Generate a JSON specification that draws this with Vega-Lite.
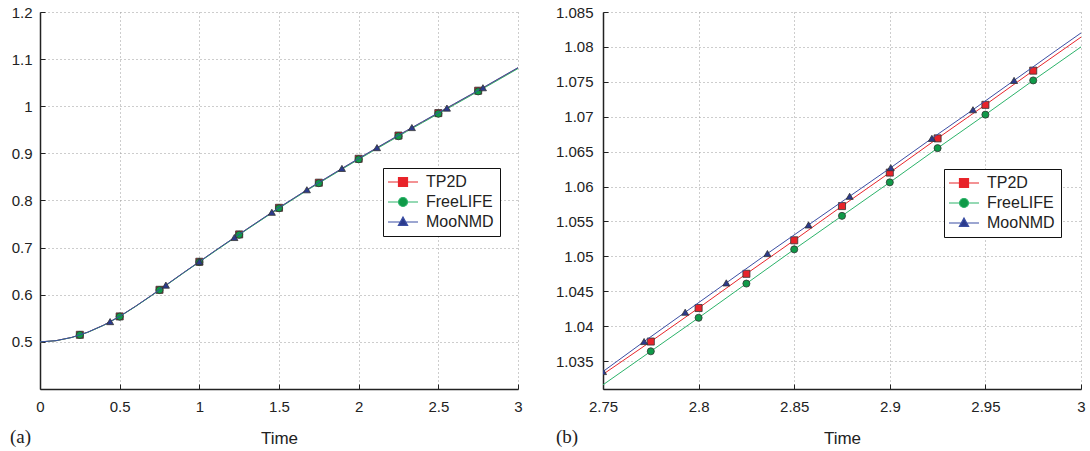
{
  "$schema": "https://vega.github.io/schema/vega-lite/v6.json",
  "background": "white",
  "padding": {"left": 10, "top": 5, "right": 5, "bottom": 0},
  "bounds": "flush",
  "spacing": 85,
  "datasets": {
    "leftLines": [
      {"series": "TP2D", "t": 0.0, "y": 0.5000}, {"series": "TP2D", "t": 0.1, "y": 0.5025}, {"series": "TP2D", "t": 0.2, "y": 0.5095}, {"series": "TP2D", "t": 0.3, "y": 0.5205}, {"series": "TP2D", "t": 0.4, "y": 0.5355}, {"series": "TP2D", "t": 0.5, "y": 0.5540}, {"series": "TP2D", "t": 0.6, "y": 0.5755}, {"series": "TP2D", "t": 0.7, "y": 0.5985}, {"series": "TP2D", "t": 0.8, "y": 0.6225}, {"series": "TP2D", "t": 0.9, "y": 0.6465}, {"series": "TP2D", "t": 1.0, "y": 0.6700}, {"series": "TP2D", "t": 1.1, "y": 0.6935}, {"series": "TP2D", "t": 1.2, "y": 0.7165}, {"series": "TP2D", "t": 1.3, "y": 0.7395}, {"series": "TP2D", "t": 1.4, "y": 0.7620}, {"series": "TP2D", "t": 1.5, "y": 0.7845}, {"series": "TP2D", "t": 1.6, "y": 0.8060}, {"series": "TP2D", "t": 1.7, "y": 0.8275}, {"series": "TP2D", "t": 1.8, "y": 0.8480}, {"series": "TP2D", "t": 1.9, "y": 0.8685}, {"series": "TP2D", "t": 2.0, "y": 0.8885}, {"series": "TP2D", "t": 2.1, "y": 0.9085}, {"series": "TP2D", "t": 2.2, "y": 0.9280}, {"series": "TP2D", "t": 2.3, "y": 0.9475}, {"series": "TP2D", "t": 2.4, "y": 0.9665}, {"series": "TP2D", "t": 2.5, "y": 0.9855}, {"series": "TP2D", "t": 2.6, "y": 1.0045}, {"series": "TP2D", "t": 2.7, "y": 1.0235}, {"series": "TP2D", "t": 2.8, "y": 1.0426}, {"series": "TP2D", "t": 2.9, "y": 1.0620}, {"series": "TP2D", "t": 3.0, "y": 1.0814},
      {"series": "FreeLIFE", "t": 0.0, "y": 0.5000}, {"series": "FreeLIFE", "t": 0.1, "y": 0.5024}, {"series": "FreeLIFE", "t": 0.2, "y": 0.5093}, {"series": "FreeLIFE", "t": 0.3, "y": 0.5202}, {"series": "FreeLIFE", "t": 0.4, "y": 0.5351}, {"series": "FreeLIFE", "t": 0.5, "y": 0.5536}, {"series": "FreeLIFE", "t": 0.6, "y": 0.5750}, {"series": "FreeLIFE", "t": 0.7, "y": 0.5980}, {"series": "FreeLIFE", "t": 0.8, "y": 0.6219}, {"series": "FreeLIFE", "t": 0.9, "y": 0.6459}, {"series": "FreeLIFE", "t": 1.0, "y": 0.6693}, {"series": "FreeLIFE", "t": 1.1, "y": 0.6927}, {"series": "FreeLIFE", "t": 1.2, "y": 0.7157}, {"series": "FreeLIFE", "t": 1.3, "y": 0.7386}, {"series": "FreeLIFE", "t": 1.4, "y": 0.7611}, {"series": "FreeLIFE", "t": 1.5, "y": 0.7835}, {"series": "FreeLIFE", "t": 1.6, "y": 0.8050}, {"series": "FreeLIFE", "t": 1.7, "y": 0.8264}, {"series": "FreeLIFE", "t": 1.8, "y": 0.8469}, {"series": "FreeLIFE", "t": 1.9, "y": 0.8673}, {"series": "FreeLIFE", "t": 2.0, "y": 0.8873}, {"series": "FreeLIFE", "t": 2.1, "y": 0.9072}, {"series": "FreeLIFE", "t": 2.2, "y": 0.9267}, {"series": "FreeLIFE", "t": 2.3, "y": 0.9461}, {"series": "FreeLIFE", "t": 2.4, "y": 0.9651}, {"series": "FreeLIFE", "t": 2.5, "y": 0.9841}, {"series": "FreeLIFE", "t": 2.6, "y": 1.0030}, {"series": "FreeLIFE", "t": 2.7, "y": 1.0220}, {"series": "FreeLIFE", "t": 2.8, "y": 1.0412}, {"series": "FreeLIFE", "t": 2.9, "y": 1.0605}, {"series": "FreeLIFE", "t": 3.0, "y": 1.0800},
      {"series": "MooNMD", "t": 0.0, "y": 0.5000}, {"series": "MooNMD", "t": 0.1, "y": 0.5026}, {"series": "MooNMD", "t": 0.2, "y": 0.5096}, {"series": "MooNMD", "t": 0.3, "y": 0.5207}, {"series": "MooNMD", "t": 0.4, "y": 0.5357}, {"series": "MooNMD", "t": 0.5, "y": 0.5542}, {"series": "MooNMD", "t": 0.6, "y": 0.5757}, {"series": "MooNMD", "t": 0.7, "y": 0.5988}, {"series": "MooNMD", "t": 0.8, "y": 0.6228}, {"series": "MooNMD", "t": 0.9, "y": 0.6468}, {"series": "MooNMD", "t": 1.0, "y": 0.6703}, {"series": "MooNMD", "t": 1.1, "y": 0.6939}, {"series": "MooNMD", "t": 1.2, "y": 0.7169}, {"series": "MooNMD", "t": 1.3, "y": 0.7399}, {"series": "MooNMD", "t": 1.4, "y": 0.7625}, {"series": "MooNMD", "t": 1.5, "y": 0.7850}, {"series": "MooNMD", "t": 1.6, "y": 0.8065}, {"series": "MooNMD", "t": 1.7, "y": 0.8281}, {"series": "MooNMD", "t": 1.8, "y": 0.8486}, {"series": "MooNMD", "t": 1.9, "y": 0.8691}, {"series": "MooNMD", "t": 2.0, "y": 0.8892}, {"series": "MooNMD", "t": 2.1, "y": 0.9092}, {"series": "MooNMD", "t": 2.2, "y": 0.9288}, {"series": "MooNMD", "t": 2.3, "y": 0.9483}, {"series": "MooNMD", "t": 2.4, "y": 0.9673}, {"series": "MooNMD", "t": 2.5, "y": 0.9863}, {"series": "MooNMD", "t": 2.6, "y": 1.0053}, {"series": "MooNMD", "t": 2.7, "y": 1.0242}, {"series": "MooNMD", "t": 2.8, "y": 1.0433}, {"series": "MooNMD", "t": 2.9, "y": 1.0627}, {"series": "MooNMD", "t": 3.0, "y": 1.0820}
    ],
    "leftMarkers": [
      {"series": "TP2D", "t": 0.25, "y": 0.5150}, {"series": "TP2D", "t": 0.5, "y": 0.5540}, {"series": "TP2D", "t": 0.75, "y": 0.6105}, {"series": "TP2D", "t": 1.0, "y": 0.6700}, {"series": "TP2D", "t": 1.25, "y": 0.7280}, {"series": "TP2D", "t": 1.5, "y": 0.7845}, {"series": "TP2D", "t": 1.75, "y": 0.8378}, {"series": "TP2D", "t": 2.0, "y": 0.8885}, {"series": "TP2D", "t": 2.25, "y": 0.9378}, {"series": "TP2D", "t": 2.5, "y": 0.9855}, {"series": "TP2D", "t": 2.75, "y": 1.0330},
      {"series": "FreeLIFE", "t": 0.25, "y": 0.5148}, {"series": "FreeLIFE", "t": 0.5, "y": 0.5536}, {"series": "FreeLIFE", "t": 0.75, "y": 0.6100}, {"series": "FreeLIFE", "t": 1.0, "y": 0.6693}, {"series": "FreeLIFE", "t": 1.25, "y": 0.7272}, {"series": "FreeLIFE", "t": 1.5, "y": 0.7835}, {"series": "FreeLIFE", "t": 1.75, "y": 0.8367}, {"series": "FreeLIFE", "t": 2.0, "y": 0.8873}, {"series": "FreeLIFE", "t": 2.25, "y": 0.9364}, {"series": "FreeLIFE", "t": 2.5, "y": 0.9841}, {"series": "FreeLIFE", "t": 2.75, "y": 1.0315},
      {"series": "MooNMD", "t": 0.44, "y": 0.5430}, {"series": "MooNMD", "t": 0.79, "y": 0.6204}, {"series": "MooNMD", "t": 1.0, "y": 0.6703}, {"series": "MooNMD", "t": 1.22, "y": 0.7215}, {"series": "MooNMD", "t": 1.455, "y": 0.7750}, {"series": "MooNMD", "t": 1.675, "y": 0.8228}, {"series": "MooNMD", "t": 1.895, "y": 0.8681}, {"series": "MooNMD", "t": 2.115, "y": 0.9122}, {"series": "MooNMD", "t": 2.334, "y": 0.9548}, {"series": "MooNMD", "t": 2.554, "y": 0.9961}, {"series": "MooNMD", "t": 2.78, "y": 1.0393}
    ],
    "rightLines": [
      {"series": "TP2D", "t": 2.75, "y": 1.0331}, {"series": "TP2D", "t": 2.775, "y": 1.0378}, {"series": "TP2D", "t": 2.8, "y": 1.0426}, {"series": "TP2D", "t": 2.825, "y": 1.0475}, {"series": "TP2D", "t": 2.85, "y": 1.0523}, {"series": "TP2D", "t": 2.875, "y": 1.0572}, {"series": "TP2D", "t": 2.9, "y": 1.0620}, {"series": "TP2D", "t": 2.925, "y": 1.0669}, {"series": "TP2D", "t": 2.95, "y": 1.0717}, {"series": "TP2D", "t": 2.975, "y": 1.0766}, {"series": "TP2D", "t": 3.0, "y": 1.0814},
      {"series": "FreeLIFE", "t": 2.75, "y": 1.0316}, {"series": "FreeLIFE", "t": 2.775, "y": 1.0364}, {"series": "FreeLIFE", "t": 2.8, "y": 1.0412}, {"series": "FreeLIFE", "t": 2.825, "y": 1.0461}, {"series": "FreeLIFE", "t": 2.85, "y": 1.0510}, {"series": "FreeLIFE", "t": 2.875, "y": 1.0558}, {"series": "FreeLIFE", "t": 2.9, "y": 1.0606}, {"series": "FreeLIFE", "t": 2.925, "y": 1.0655}, {"series": "FreeLIFE", "t": 2.95, "y": 1.0703}, {"series": "FreeLIFE", "t": 2.975, "y": 1.0752}, {"series": "FreeLIFE", "t": 3.0, "y": 1.0800},
      {"series": "MooNMD", "t": 2.75, "y": 1.0335}, {"series": "MooNMD", "t": 2.7715, "y": 1.0378}, {"series": "MooNMD", "t": 2.793, "y": 1.0420}, {"series": "MooNMD", "t": 2.8145, "y": 1.0462}, {"series": "MooNMD", "t": 2.836, "y": 1.0504}, {"series": "MooNMD", "t": 2.8575, "y": 1.0545}, {"series": "MooNMD", "t": 2.879, "y": 1.0586}, {"series": "MooNMD", "t": 2.9005, "y": 1.0627}, {"series": "MooNMD", "t": 2.922, "y": 1.0669}, {"series": "MooNMD", "t": 2.9435, "y": 1.0710}, {"series": "MooNMD", "t": 2.965, "y": 1.0752}, {"series": "MooNMD", "t": 2.9865, "y": 1.0794}, {"series": "MooNMD", "t": 3.0, "y": 1.0820}
    ],
    "rightMarkers": [
      {"series": "TP2D", "t": 2.775, "y": 1.0378}, {"series": "TP2D", "t": 2.8, "y": 1.0426}, {"series": "TP2D", "t": 2.825, "y": 1.0475}, {"series": "TP2D", "t": 2.85, "y": 1.0523}, {"series": "TP2D", "t": 2.875, "y": 1.0572}, {"series": "TP2D", "t": 2.9, "y": 1.0620}, {"series": "TP2D", "t": 2.925, "y": 1.0669}, {"series": "TP2D", "t": 2.95, "y": 1.0717}, {"series": "TP2D", "t": 2.975, "y": 1.0766},
      {"series": "FreeLIFE", "t": 2.775, "y": 1.0364}, {"series": "FreeLIFE", "t": 2.8, "y": 1.0412}, {"series": "FreeLIFE", "t": 2.825, "y": 1.0461}, {"series": "FreeLIFE", "t": 2.85, "y": 1.0510}, {"series": "FreeLIFE", "t": 2.875, "y": 1.0558}, {"series": "FreeLIFE", "t": 2.9, "y": 1.0606}, {"series": "FreeLIFE", "t": 2.925, "y": 1.0655}, {"series": "FreeLIFE", "t": 2.95, "y": 1.0703}, {"series": "FreeLIFE", "t": 2.975, "y": 1.0752},
      {"series": "MooNMD", "t": 2.75, "y": 1.0335}, {"series": "MooNMD", "t": 2.7715, "y": 1.0378}, {"series": "MooNMD", "t": 2.793, "y": 1.0420}, {"series": "MooNMD", "t": 2.8145, "y": 1.0462}, {"series": "MooNMD", "t": 2.836, "y": 1.0504}, {"series": "MooNMD", "t": 2.8575, "y": 1.0545}, {"series": "MooNMD", "t": 2.879, "y": 1.0586}, {"series": "MooNMD", "t": 2.9005, "y": 1.0627}, {"series": "MooNMD", "t": 2.922, "y": 1.0669}, {"series": "MooNMD", "t": 2.9435, "y": 1.0710}, {"series": "MooNMD", "t": 2.965, "y": 1.0752}
    ]
  },
  "hconcat": [
    {
      "width": 478,
      "height": 377,
      "title": {"text": "(a)", "orient": "bottom", "anchor": "start", "frame": "group", "dx": -30, "dy": -22, "font": "Liberation Serif", "fontSize": 19, "fontWeight": "normal", "color": "#222"},
      "encoding": {
        "x": {"field": "t", "type": "quantitative", "scale": {"domain": [0, 3], "nice": false, "zero": false}, "axis": {"values": [0, 0.5, 1, 1.5, 2, 2.5, 3], "format": "~g", "title": "Time"}},
        "y": {"field": "y", "type": "quantitative", "scale": {"domain": [0.4, 1.2], "nice": false, "zero": false}, "axis": {"values": [0.5, 0.6, 0.7, 0.8, 0.9, 1, 1.1, 1.2], "format": "~g", "title": null, "labelPadding": 13}}
      },
      "layer": [
        {"data": {"name": "leftLines"}, "transform": [{"filter": "datum.series === 'TP2D'"}], "mark": {"type": "line", "color": "#e8262b", "strokeWidth": 1, "clip": true}, "encoding": {"order": {"field": "t", "type": "quantitative"}}},
        {"data": {"name": "leftMarkers"}, "transform": [{"filter": "datum.series === 'TP2D'"}], "mark": {"type": "point", "shape": "square", "filled": true, "fill": "#e8232a", "stroke": "#333", "strokeWidth": 0.8, "size": 50, "opacity": 1}, "encoding": {}},
        {"data": {"name": "leftLines"}, "transform": [{"filter": "datum.series === 'FreeLIFE'"}], "mark": {"type": "line", "color": "#2cb36a", "strokeWidth": 1, "clip": true}, "encoding": {"order": {"field": "t", "type": "quantitative"}}},
        {"data": {"name": "leftMarkers"}, "transform": [{"filter": "datum.series === 'FreeLIFE'"}], "mark": {"type": "point", "shape": "circle", "filled": true, "fill": "#0f9a48", "stroke": "#333", "strokeWidth": 0.8, "size": 50, "opacity": 1}, "encoding": {}},
        {"data": {"name": "leftLines"}, "transform": [{"filter": "datum.series === 'MooNMD'"}], "mark": {"type": "line", "color": "#3b4ea3", "strokeWidth": 1, "clip": true}, "encoding": {"order": {"field": "t", "type": "quantitative"}}},
        {"data": {"name": "leftMarkers"}, "transform": [{"filter": "datum.series === 'MooNMD'"}], "mark": {"type": "point", "shape": "triangle-up", "filled": true, "fill": "#2b3a8c", "stroke": "#333", "strokeWidth": 0.8, "size": 50, "opacity": 1}, "encoding": {}},
        {
          "data": {"name": "leftMarkers"},
          "mark": {"type": "point", "filled": true, "opacity": 0, "size": 64},
          "encoding": {
            "shape": {"field": "series", "type": "nominal", "scale": {"domain": ["TP2D", "FreeLIFE", "MooNMD"], "range": ["M-3.75,0H-1.125M1.125,0H3.75M-1.125,-1.125H1.125V1.125H-1.125Z", "M-3.75,0H-1.125M1.125,0H3.75M-1.125,0A1.125,1.125,0,1,0,1.125,0A1.125,1.125,0,1,0,-1.125,0Z", "M-3.75,0H-0.6M0.6,0H3.75M0,-1.25L1.15,0.85H-1.15Z"]},
              "legend": {"orient": "none", "legendX": 343, "legendY": 156, "title": null, "fillColor": "white", "strokeColor": "#111", "padding": 6, "symbolSize": 64, "symbolOffset": 6, "labelOffset": 15, "symbolStrokeWidth": 1.2, "symbolOpacity": 1, "labelFont": "Liberation Sans", "labelFontSize": 16, "labelColor": "#222", "rowPadding": 4}},
            "fill": {"field": "series", "type": "nominal", "scale": {"domain": ["TP2D", "FreeLIFE", "MooNMD"], "range": ["#e8232a", "#0f9a48", "#2b3a8c"]},
              "legend": {"orient": "none", "legendX": 343, "legendY": 156, "title": null, "fillColor": "white", "strokeColor": "#111", "padding": 6, "symbolSize": 64, "symbolOffset": 6, "labelOffset": 15, "symbolStrokeWidth": 1.2, "symbolOpacity": 1, "labelFont": "Liberation Sans", "labelFontSize": 16, "labelColor": "#222", "rowPadding": 4}},
            "stroke": {"field": "series", "type": "nominal", "scale": {"domain": ["TP2D", "FreeLIFE", "MooNMD"], "range": ["#e8262b", "#2cb36a", "#3b4ea3"]},
              "legend": {"orient": "none", "legendX": 343, "legendY": 156, "title": null, "fillColor": "white", "strokeColor": "#111", "padding": 6, "symbolSize": 64, "symbolOffset": 6, "labelOffset": 15, "symbolStrokeWidth": 1.2, "symbolOpacity": 1, "labelFont": "Liberation Sans", "labelFontSize": 16, "labelColor": "#222", "rowPadding": 4}}
          }
        }
      ]
    },
    {
      "width": 478,
      "height": 377,
      "title": {"text": "(b)", "orient": "bottom", "anchor": "start", "frame": "group", "dx": -47, "dy": -22, "font": "Liberation Serif", "fontSize": 19, "fontWeight": "normal", "color": "#222"},
      "encoding": {
        "x": {"field": "t", "type": "quantitative", "scale": {"domain": [2.75, 3], "nice": false, "zero": false}, "axis": {"values": [2.75, 2.8, 2.85, 2.9, 2.95, 3], "format": "~g", "title": "Time"}},
        "y": {"field": "y", "type": "quantitative", "scale": {"domain": [1.031, 1.085], "nice": false, "zero": false}, "axis": {"values": [1.035, 1.04, 1.045, 1.05, 1.055, 1.06, 1.065, 1.07, 1.075, 1.08, 1.085], "tickCount": 30, "format": "~g", "title": null, "labelPadding": 15}}
      },
      "layer": [
        {"data": {"name": "rightLines"}, "transform": [{"filter": "datum.series === 'TP2D'"}], "mark": {"type": "line", "color": "#e8262b", "strokeWidth": 1, "clip": true}, "encoding": {"order": {"field": "t", "type": "quantitative"}}},
        {"data": {"name": "rightMarkers"}, "transform": [{"filter": "datum.series === 'TP2D'"}], "mark": {"type": "point", "shape": "square", "filled": true, "fill": "#e8232a", "stroke": "#333", "strokeWidth": 0.8, "size": 50, "opacity": 1, "clip": true}, "encoding": {}},
        {"data": {"name": "rightLines"}, "transform": [{"filter": "datum.series === 'FreeLIFE'"}], "mark": {"type": "line", "color": "#2cb36a", "strokeWidth": 1, "clip": true}, "encoding": {"order": {"field": "t", "type": "quantitative"}}},
        {"data": {"name": "rightMarkers"}, "transform": [{"filter": "datum.series === 'FreeLIFE'"}], "mark": {"type": "point", "shape": "circle", "filled": true, "fill": "#0f9a48", "stroke": "#333", "strokeWidth": 0.8, "size": 50, "opacity": 1, "clip": true}, "encoding": {}},
        {"data": {"name": "rightLines"}, "transform": [{"filter": "datum.series === 'MooNMD'"}], "mark": {"type": "line", "color": "#3b4ea3", "strokeWidth": 1, "clip": true}, "encoding": {"order": {"field": "t", "type": "quantitative"}}},
        {"data": {"name": "rightMarkers"}, "transform": [{"filter": "datum.series === 'MooNMD'"}], "mark": {"type": "point", "shape": "triangle-up", "filled": true, "fill": "#2b3a8c", "stroke": "#333", "strokeWidth": 0.8, "size": 50, "opacity": 1, "clip": true}, "encoding": {}},
        {
          "data": {"name": "rightMarkers"},
          "mark": {"type": "point", "filled": true, "opacity": 0, "size": 64, "clip": true},
          "encoding": {
            "shape": {"field": "series", "type": "nominal", "scale": {"domain": ["TP2D", "FreeLIFE", "MooNMD"], "range": ["M-3.75,0H-1.125M1.125,0H3.75M-1.125,-1.125H1.125V1.125H-1.125Z", "M-3.75,0H-1.125M1.125,0H3.75M-1.125,0A1.125,1.125,0,1,0,1.125,0A1.125,1.125,0,1,0,-1.125,0Z", "M-3.75,0H-0.6M0.6,0H3.75M0,-1.25L1.15,0.85H-1.15Z"]},
              "legend": {"orient": "none", "legendX": 341, "legendY": 157, "title": null, "fillColor": "white", "strokeColor": "#111", "padding": 6, "symbolSize": 64, "symbolOffset": 6, "labelOffset": 15, "symbolStrokeWidth": 1.2, "symbolOpacity": 1, "labelFont": "Liberation Sans", "labelFontSize": 16, "labelColor": "#222", "rowPadding": 4}},
            "fill": {"field": "series", "type": "nominal", "scale": {"domain": ["TP2D", "FreeLIFE", "MooNMD"], "range": ["#e8232a", "#0f9a48", "#2b3a8c"]},
              "legend": {"orient": "none", "legendX": 341, "legendY": 157, "title": null, "fillColor": "white", "strokeColor": "#111", "padding": 6, "symbolSize": 64, "symbolOffset": 6, "labelOffset": 15, "symbolStrokeWidth": 1.2, "symbolOpacity": 1, "labelFont": "Liberation Sans", "labelFontSize": 16, "labelColor": "#222", "rowPadding": 4}},
            "stroke": {"field": "series", "type": "nominal", "scale": {"domain": ["TP2D", "FreeLIFE", "MooNMD"], "range": ["#e8262b", "#2cb36a", "#3b4ea3"]},
              "legend": {"orient": "none", "legendX": 341, "legendY": 157, "title": null, "fillColor": "white", "strokeColor": "#111", "padding": 6, "symbolSize": 64, "symbolOffset": 6, "labelOffset": 15, "symbolStrokeWidth": 1.2, "symbolOpacity": 1, "labelFont": "Liberation Sans", "labelFontSize": 16, "labelColor": "#222", "rowPadding": 4}}
          }
        }
      ]
    }
  ],
  "resolve": {
    "scale": {"fill": "independent", "shape": "independent", "stroke": "independent"},
    "legend": {"fill": "independent", "shape": "independent", "stroke": "independent"}
  },
  "config": {
    "font": "Liberation Sans",
    "view": {"stroke": null},
    "axis": {
      "domainColor": "#222", "domainWidth": 1.5,
      "tickColor": "#222", "tickSize": -5, "tickWidth": 1,
      "labelFont": "Liberation Sans", "labelFontSize": 15, "labelColor": "#222", "labelFlush": false, "labelOverlap": false, "labelBound": false,
      "titleFont": "Liberation Sans", "titleFontSize": 17, "titleFontWeight": "normal", "titleColor": "#222",
      "grid": true, "gridColor": "#9a9a9a", "gridDash": [1, 3], "gridWidth": 1
    },
    "axisX": {"labelPadding": 15, "titlePadding": 16}
  }
}
